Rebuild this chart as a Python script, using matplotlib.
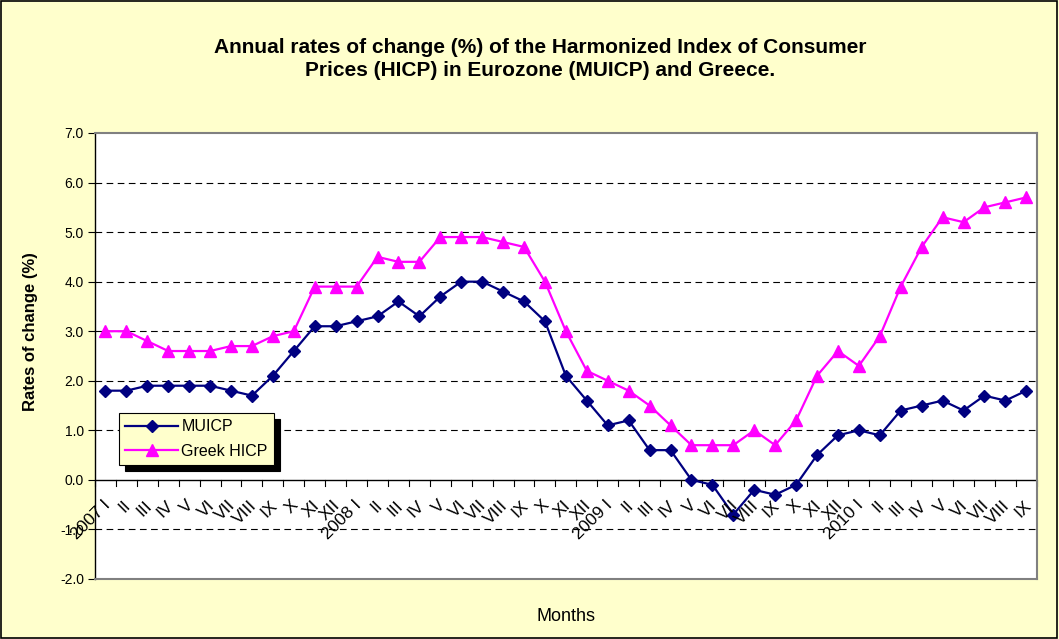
import matplotlib.pyplot as plt
from matplotlib.patches import Rectangle

plt.rcParams['font.family'] = ['Liberation Sans', 'DejaVu Sans']

roman = ["I", "II", "III", "IV", "V", "VI", "VII", "VIII", "IX", "X", "XI", "XII"]
years = ["2007", "2008", "2009", "2010"]
labels = []
for y in years:
    for i, r in enumerate(roman):
        if y == "2010" and i > 8:
            break
        labels.append(y + " " + r if i == 0 else r)

muicp = [1.8, 1.8, 1.9, 1.9, 1.9, 1.9, 1.8, 1.7, 2.1, 2.6, 3.1, 3.1,
         3.2, 3.3, 3.6, 3.3, 3.7, 4.0, 4.0, 3.8, 3.6, 3.2, 2.1, 1.6,
         1.1, 1.2, 0.6, 0.6, 0.0, -0.1, -0.7, -0.2, -0.3, -0.1, 0.5, 0.9,
         1.0, 0.9, 1.4, 1.5, 1.6, 1.4, 1.7, 1.6, 1.8]
greek = [3.0, 3.0, 2.8, 2.6, 2.6, 2.6, 2.7, 2.7, 2.9, 3.0, 3.9, 3.9,
         3.9, 4.5, 4.4, 4.4, 4.9, 4.9, 4.9, 4.8, 4.7, 4.0, 3.0, 2.2,
         2.0, 1.8, 1.5, 1.1, 0.7, 0.7, 0.7, 1.0, 0.7, 1.2, 2.1, 2.6,
         2.3, 2.9, 3.9, 4.7, 5.3, 5.2, 5.5, 5.6, 5.7]

x = list(range(len(labels)))

fig = plt.figure(figsize=(10.59, 6.39), dpi=100, facecolor="#FFFFCC")
fig.patches.append(Rectangle((0.001, 0.001), 0.997, 0.997, transform=fig.transFigure,
                             fill=False, edgecolor="black", linewidth=1.2))
ax = fig.add_axes([0.0897, 0.0939, 0.8893, 0.698])
ax.set_facecolor("white")

ax.plot(x, muicp, color="#000080", marker="D", markersize=6.5, linewidth=1.6, label="MUICP", zorder=4)
ax.plot(x, greek, color="#FF00FF", marker="^", markersize=9, linewidth=1.6, label="Greek HICP", zorder=3)

ax.set_xlim(-0.5, len(labels) - 0.5)
ax.set_ylim(-2.0, 7.0)
ax.set_yticks([-2.0, -1.0, 0.0, 1.0, 2.0, 3.0, 4.0, 5.0, 6.0, 7.0])
ax.set_yticklabels(["%.1f" % v for v in ax.get_yticks()], fontsize=10)
for v in [-1, 1, 2, 3, 4, 5, 6]:
    ax.axhline(v, color="black", linestyle=(0, (6, 4)), linewidth=0.8, zorder=1)

# category axis drawn at zero
ax.axhline(0, color="black", linewidth=1.0, zorder=2)
ax.set_xticks([])
for k in range(len(labels) + 1):
    ax.plot([k - 0.5, k - 0.5], [0, -0.13], color="black", linewidth=0.8, clip_on=False, zorder=2)
for k, lab in enumerate(labels):
    ax.text(k - 0.15, -0.36, lab, rotation=45, ha="right", va="top", rotation_mode="anchor",
            fontsize=12.5, zorder=5)

for s in ["top", "right", "bottom"]:
    ax.spines[s].set_color("#808080")
    ax.spines[s].set_linewidth(1.5)
ax.spines["left"].set_color("black")
ax.spines["left"].set_linewidth(1.0)
ax.tick_params(axis="y", direction="out", length=5, pad=3)

ax.set_ylabel("Rates of change (%)", fontsize=12, fontweight="bold")
ax.yaxis.set_label_coords(-0.0605, 0.554)
ax.set_xlabel("Months", fontsize=13)
ax.xaxis.set_label_coords(0.5, -0.065)

fig.text(0.51, 0.908, "Annual rates of change (%) of the Harmonized Index of Consumer\nPrices (HICP) in Eurozone (MUICP) and Greece.",
         ha="center", va="center", fontsize=15, fontweight="bold", linespacing=1.25)

leg = ax.legend(loc="upper left", bbox_to_anchor=(0.0255, 0.372), fontsize=11.5,
                facecolor="#FFFFCC", edgecolor="black", framealpha=1, fancybox=False,
                shadow={"color": "black", "alpha": 1, "ox": 4, "oy": -4}, handlelength=3.3,
                borderpad=0.4, labelspacing=0.6, handletextpad=0.2, borderaxespad=0)
leg.get_frame().set_linewidth(0.8)

fig.savefig("out.png", dpi=100, facecolor=fig.get_facecolor())
